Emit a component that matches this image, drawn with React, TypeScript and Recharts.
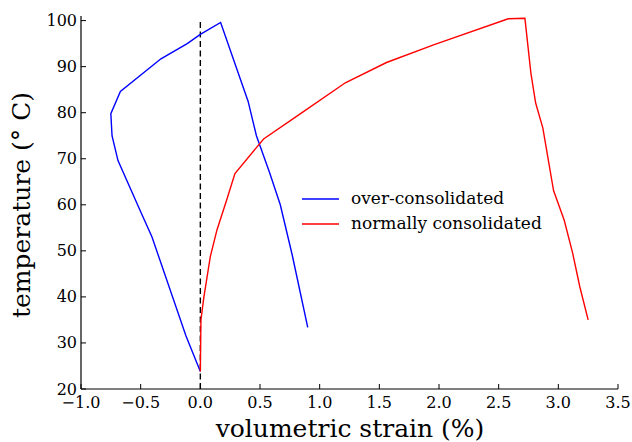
import { LineChart, Line, XAxis, YAxis, Legend } from "recharts";

// readings taken from the figure: volumetric strain (%) vs temperature (°C)
const overStrain = [0, -0.12, -0.405, -0.5, -0.69, -0.74, -0.75, -0.67, -0.33, -0.11, 0, 0.17, 0.4, 0.47, 0.58, 0.67, 0.77, 0.9];
const overTemp = [23.8, 31.5, 53, 58.5, 69.6, 75, 79.8, 84.6, 91.7, 95, 97, 99.6, 82.5, 75, 67, 60, 49.1, 33.4];

const normalStrain = [0, 0.005, 0.03, 0.084, 0.14, 0.22, 0.29, 0.53, 0.84, 1.215, 1.56, 1.96, 2.58, 2.72, 2.77, 2.81, 2.87, 2.96, 3.05, 3.12, 3.18, 3.25];
const normalTemp = [23.8, 35, 40, 48.8, 54.6, 61, 66.8, 74.3, 79.8, 86.5, 90.9, 94.8, 100.4, 100.5, 88.6, 82.1, 76.7, 63.1, 56.6, 49.5, 42.2, 35];

const zeroStrain = [0, 0];
const zeroTemp = [20, 100];

const xTicks = [-1, -0.5, 0, 0.5, 1, 1.5, 2, 2.5, 3, 3.5];
const yTicks = [20, 30, 40, 50, 60, 70, 80, 90, 100];

const toPoints = (xs: number[], ys: number[]) => xs.map((x, i) => ({ x, y: ys[i] }));

const overData = toPoints(overStrain, overTemp);
const normalData = toPoints(normalStrain, normalTemp);
const zeroData = toPoints(zeroStrain, zeroTemp);

const FONT = "'DejaVu Serif', serif";

const fmtX = (v: number) => (v < 0 ? "\u2212" + Math.abs(v).toFixed(1) : v.toFixed(1));

// matplotlib style ticks: pointing into the plot
function XTick(props: any) {
  const { x, y, payload } = props;
  return (
    <g>
      <line x1={x} y1={y} x2={x} y2={y - 5} stroke="#000" strokeWidth={1} />
      <text x={x} y={y + 19} textAnchor="middle" fontFamily={FONT} fontSize={16} fill="#000">
        {fmtX(payload.value)}
      </text>
    </g>
  );
}

function YTick(props: any) {
  const { x, y, payload } = props;
  return (
    <g>
      <line x1={x} y1={y} x2={x + 5} y2={y} stroke="#000" strokeWidth={1} />
      <text x={x - 4} y={y + 5.5} textAnchor="end" fontFamily={FONT} fontSize={16} fill="#000">
        {payload.value}
      </text>
    </g>
  );
}

const legendItems = [
  { label: "over-consolidated", color: "#0000ff" },
  { label: "normally consolidated", color: "#ff0000" },
];

function PlotLegend() {
  return (
    <div style={{ fontFamily: FONT, fontSize: 17 }}>
      {legendItems.map((it) => (
        <div key={it.label} style={{ display: "flex", alignItems: "center", height: 25 }}>
          <svg width={37} height={4} style={{ display: "block" }}>
            <line x1={0} y1={2} x2={37} y2={2} stroke={it.color} strokeWidth={1.4} />
          </svg>
          <span style={{ marginLeft: 12, whiteSpace: "nowrap", lineHeight: "25px" }}>{it.label}</span>
        </div>
      ))}
    </div>
  );
}

export default function App() {
  return (
    <div style={{ position: "absolute", left: 0, top: 0, background: "#fff" }}>
      <LineChart width={632} height={442} margin={{ top: 16, right: 14, bottom: 0, left: 21 }}>
        <XAxis
          type="number"
          dataKey="x"
          domain={[-1, 3.5]}
          ticks={xTicks}
          interval={0}
          tickLine={false}
          tickSize={0}
          tickMargin={0}
          tick={<XTick />}
          height={53}
          axisLine={{ stroke: "#000", strokeWidth: 1.2 }}
          allowDataOverflow
          label={{
            content: () => (
              <text x={350} y={437} textAnchor="middle" fontFamily={FONT} fontSize={25} fill="#000">
                volumetric strain (%)
              </text>
            ),
          }}
        />
        <YAxis
          type="number"
          dataKey="y"
          domain={[20, 101]}
          ticks={yTicks}
          interval={0}
          tickLine={false}
          tickSize={0}
          tickMargin={0}
          tick={<YTick />}
          width={60}
          axisLine={{ stroke: "#000", strokeWidth: 1.2 }}
          allowDataOverflow
          label={{
            content: () => (
              <text
                x={30}
                y={205}
                transform="rotate(-90 30 205)"
                textAnchor="middle"
                fontFamily={FONT}
                fontSize={25}
                fill="#000"
              >
                temperature ({"\u00b0"} C)
              </text>
            ),
          }}
        />
        <Legend
          layout="vertical"
          align="center"
          verticalAlign="middle"
          content={<PlotLegend />}
          wrapperStyle={{ left: 302, top: 186, width: "auto" }}
        />
        <Line
          data={zeroData}
          dataKey="y"
          stroke="#000"
          strokeWidth={1.4}
          strokeDasharray="6 3.5"
          dot={false}
          activeDot={false}
          legendType="none"
          isAnimationActive={false}
        />
        <Line
          data={overData}
          dataKey="y"
          name="over-consolidated"
          stroke="#0000ff"
          strokeWidth={1.4}
          dot={false}
          activeDot={false}
          isAnimationActive={false}
        />
        <Line
          data={normalData}
          dataKey="y"
          name="normally consolidated"
          stroke="#ff0000"
          strokeWidth={1.4}
          dot={false}
          activeDot={false}
          isAnimationActive={false}
        />
      </LineChart>
    </div>
  );
}
